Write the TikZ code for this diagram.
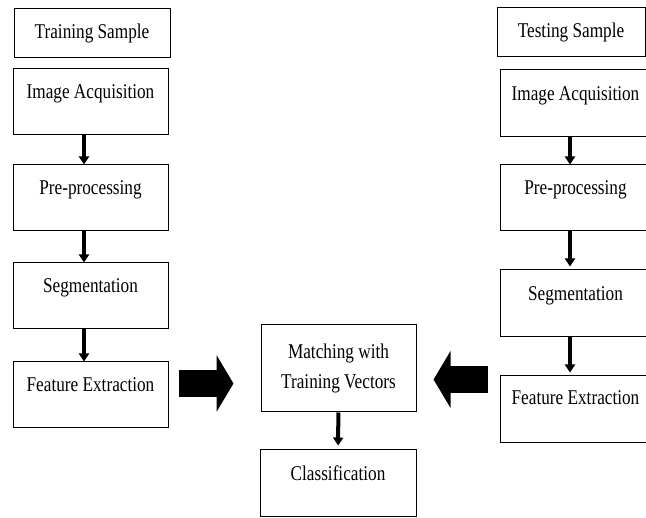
\documentclass[tikz,border=0pt]{standalone}
\usepackage{fontspec}
\setmainfont{Liberation Serif}[FakeStretch=0.82]
\usetikzlibrary{arrows.meta}

\begin{document}
\begin{tikzpicture}[x=1pt, y=-1pt,
        every node/.style={font=\fontsize{21}{30}\selectfont},
        stage/.style={draw, line width=1pt, inner sep=0pt, minimum width=155pt, text height=30pt, text depth=36pt},
        sample/.style={stage, text depth=19pt},
        flowarrow/.style={line width=4pt, -{Triangle[length=8pt, width=10pt]}},
        bigarrow/.style={line width=27pt, -{Triangle[length=17pt, width=56pt]}}]
        \useasboundingbox (0,0) rectangle (646,518);
        % training side
        \node[sample, minimum width=156pt] (tsL) at (92,33.5) {Training Sample};
        \node[stage] (iaL) at (90.5,102) {Image Acquisition};
        \node[stage] (ppL) at (90.5,198) {Pre-processing};
        \node[stage] (sgL) at (90.5,296) {Segmentation};
        \node[stage] (feL) at (90.5,395) {Feature Extraction};
        \draw[flowarrow] ([xshift=-6.5pt]iaL.south) -- ([xshift=-6.5pt]ppL.north);
        \draw[flowarrow] ([xshift=-6.5pt]ppL.south) -- ([xshift=-6.5pt]sgL.north);
        \draw[flowarrow] ([xshift=-6.5pt]sgL.south) -- ([xshift=-6.5pt]feL.north);
        % testing side
        \node[sample, minimum width=148pt] (tsR) at (571,32.5) {Testing Sample};
        \node[stage, minimum width=151pt, text height=31pt] (iaR) at (575.5,103.5) {Image Acquisition};
        \node[stage, minimum width=151pt] (ppR) at (575.5,198) {Pre-processing};
        \node[stage, minimum width=151pt, text height=31pt] (sgR) at (575.5,303.5) {Segmentation};
        \node[stage, minimum width=151pt, text height=29pt, text depth=38pt] (feR) at (575.5,409.5) {Feature Extraction};
        \draw[flowarrow] ([xshift=-5.5pt]iaR.south) -- ([xshift=-5.5pt]ppR.north);
        \draw[flowarrow] ([xshift=-5.5pt]ppR.south) -- ([xshift=-5.5pt,yshift=3pt]sgR.north);
        \draw[flowarrow] ([xshift=-5.5pt]sgR.south) -- ([xshift=-5.5pt,yshift=3pt]feR.north);
        % matching and result
        \node[draw, line width=1pt, minimum width=155pt, minimum height=87pt, align=center] (match) at (338.5,368.5) {Matching with\\Training Vectors};
        \node[stage, minimum width=156pt, text height=31pt] (cls) at (338,483.5) {Classification};
        \draw[flowarrow, shorten >=4pt] (match) -- (cls);
        \coordinate (inL) at ([xshift=10pt, yshift=11.5pt]feL.east);
        \coordinate (tipL) at ([xshift=-27pt]inL -| match.west);
        \draw[bigarrow] (inL) -- (tipL);
        \coordinate (inR) at ([xshift=-12pt, yshift=30pt]feR.west);
        \coordinate (tipR) at ([xshift=17pt]inR -| match.east);
        \draw[bigarrow] (inR) -- (tipR);
    \end{tikzpicture}
\end{document}
